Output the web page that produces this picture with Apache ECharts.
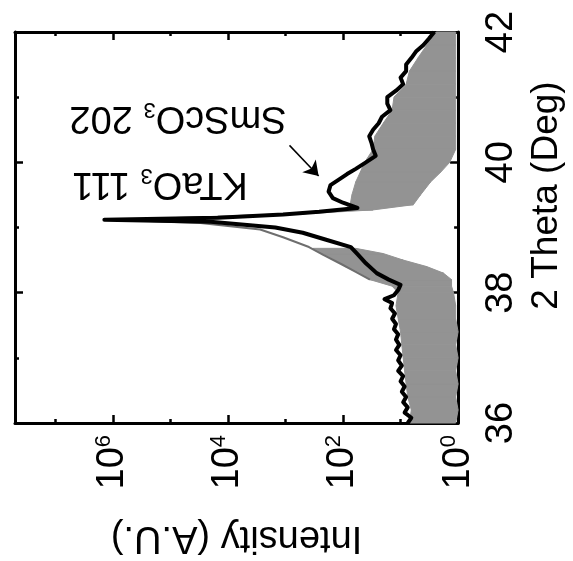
<!DOCTYPE html>
<html>
<head>
<meta charset="utf-8">
<script src="https://cdn.jsdelivr.net/npm/echarts@6/dist/echarts.min.js"></script>
<style>
  html, body { margin: 0; padding: 0; background: #fff; }
  #grafica { width: 573px; height: 561px; }
</style>
</head>
<body>
<div id="grafica"></div>
<script>
// traza negra (pelicula)
const filmTheta = [
  36.0, 36.08, 36.16, 36.24, 36.32, 36.4, 36.48, 36.56, 36.64, 36.72, 36.8,
  36.88, 36.96, 37.04, 37.12, 37.2, 37.28, 37.36, 37.44, 37.52, 37.6, 37.68,
  37.76, 37.84, 37.9, 37.96, 38.04, 38.12, 38.2, 38.3, 38.45, 38.59, 38.7,
  38.82, 38.92, 39.0, 39.09, 39.12, 39.15, 39.2, 39.24, 39.3, 39.38, 39.45,
  39.55, 39.65, 39.73, 39.82, 39.9, 40.0, 40.1, 40.2, 40.3, 40.4, 40.5, 40.6,
  40.7, 40.8, 40.9, 41.0, 41.1, 41.2, 41.3, 41.4, 41.5, 41.6, 41.7, 41.8,
  41.9, 42.0,
];
const filmCounts = [
  7.5, 6.5, 8.5, 7.5, 9, 8, 9.5, 8.5, 10, 9, 11,
  9.5, 11, 10, 12, 10.5, 12, 11, 13, 12, 14, 12.5,
  15, 14, 19, 13, 11, 10, 16, 26, 40, 56, 73,
  210, 500, 1500, 20000, 1400000, 15000, 1100, 260, 56, 100, 150,
  178, 165, 120, 85, 60, 40, 27, 30, 32, 35, 30, 24,
  21, 15, 17, 17, 12, 9, 10, 8, 8, 6.5, 5.4, 4,
  3.2, 2.6,
];

// flanco de la traza gris
const flankTheta = [38.2, 38.32, 38.44, 38.58, 38.7, 38.85, 38.97, 39.07, 39.12, 39.16, 39.21, 39.27];
const flankCounts = [34, 60, 108, 220, 390, 1100, 2750, 30000, 900000, 20000, 600, 90];

// ruido gris (banda minimo / maximo)
const lowBandTheta = [36.0, 36.2, 36.4, 36.6, 36.8, 37.0, 37.2, 37.4, 37.6, 37.8, 38.0, 38.1, 38.2, 38.3, 38.4, 38.5, 38.6, 38.68];
const lowBandMin = [1.1, 1.0, 1.1, 1.0, 1.1, 1.0, 1.1, 1.0, 1.1, 1.1, 1.2, 1.3, 1.3, 1.8, 3.5, 9, 20, 60];
const lowBandMax = [7, 6.5, 7.5, 8, 8.5, 9, 9.5, 10, 11, 12, 11, 14, 34, 50, 90, 140, 230, 330];

const highBandTheta = [39.22, 39.27, 39.35, 39.5, 39.7, 39.85, 40.0, 40.2, 40.4, 40.6, 40.8, 41.0, 41.2, 41.4, 41.6, 41.8, 42.0];
const highBandMin = [300, 30, 6, 4.5, 3, 2, 1.4, 1.1, 1.1, 1.1, 1.1, 1.1, 1.1, 1.1, 1.1, 1.1, 1.1];
const highBandMax = [700, 100, 75, 70, 60, 50, 42, 30, 28, 20, 14, 13, 8, 7, 5, 3.5, 2.4];

// flecha SmScO3
const arrowFrom = [850, 40.26];
const arrowTo = [265, 39.79];

const thetaMin = 36;
const thetaMax = 42;
const intensityMin = 1;
const intensityMax = 5e7;

const FONT = "Liberation Sans";

const renderBand = (params, api) => {
  const i = params.dataIndexInside;
  if (i >= params.dataInsideLength - 1) return null;
  const a = api.coord([api.value(0, i), api.value(1, i)]);
  const b = api.coord([api.value(2, i), api.value(1, i)]);
  const c = api.coord([api.value(2, i + 1), api.value(1, i + 1)]);
  const d = api.coord([api.value(0, i + 1), api.value(1, i + 1)]);
  return {
    type: "polygon",
    shape: { points: [a, b, c, d] },
    style: { fill: "#939393", stroke: "#939393", lineWidth: 1 },
  };
};

const expLabel = (v) => {
  const e = Math.round(Math.log10(v));
  if (Math.abs(Math.log10(v) - e) > 0.01 || e % 2 !== 0) return "";
  return "10{sup|" + e + "}";
};

const logAxis = (pos, withLabels) => ({
  type: "log",
  logBase: 10,
  position: pos,
  min: intensityMin,
  max: intensityMax,
  inverse: true,
  axisLine: { show: true, onZero: false, lineStyle: { color: "#000", width: 3 } },
  axisTick: { show: true, inside: true, length: 4, lineStyle: { color: "#000", width: 2.5 } },
  splitLine: { show: false },
  axisLabel: withLabels
    ? {
        show: true,
        rotate: 90,
        margin: 12,
        color: "#000",
        fontFamily: FONT,
        fontSize: 38,
        lineHeight: 40,
        showMaxLabel: false,
        formatter: expLabel,
        rich: { sup: { fontSize: 22, verticalAlign: "top", fontFamily: FONT, color: "#000" } },
      }
    : { show: false },
  name: withLabels ? "Intensity (A.U.)" : "",
  nameLocation: "middle",
  nameRotate: 180,
  nameGap: 95,
  nameTextStyle: { fontFamily: FONT, fontSize: 38, color: "#000" },
});

// ticks largos en decadas pares
const decadeAxis = (pos) => ({
  type: "value",
  position: pos,
  min: 0,
  max: Math.log10(intensityMax),
  interval: 2,
  inverse: true,
  axisLine: { show: false, onZero: false },
  axisTick: { show: true, inside: true, length: 8, lineStyle: { color: "#000", width: 2.5 } },
  axisLabel: { show: false },
  splitLine: { show: false },
});

const thetaAxis = (pos, withLabels) => ({
  type: "value",
  position: pos,
  min: thetaMin,
  max: thetaMax,
  interval: 2,
  axisLine: { show: true, onZero: false, lineStyle: { color: "#000", width: 3 } },
  axisTick: { show: true, inside: true, length: 8, lineStyle: { color: "#000", width: 2.5 } },
  minorTick: { show: true, splitNumber: 2, length: 4, lineStyle: { color: "#000", width: 2.5 } },
  splitLine: { show: false },
  minorSplitLine: { show: false },
  axisLabel: withLabels
    ? { show: true, rotate: 90, margin: 24, color: "#000", fontFamily: FONT, fontSize: 38 }
    : { show: false },
  name: withLabels ? "2 Theta (Deg)" : "",
  nameLocation: "middle",
  nameRotate: 90,
  nameGap: 60,
  nameTextStyle: { fontFamily: FONT, fontSize: 37, color: "#000", padding: [0, 0, 0, 64] },
});

const option = {
  animation: false,
  backgroundColor: "#fff",
  grid: { left: 15, right: 103, top: 32, bottom: 133, containLabel: false },
  xAxis: [logAxis("bottom", true), logAxis("top", false), decadeAxis("bottom"), decadeAxis("top")],
  yAxis: [thetaAxis("right", true), thetaAxis("left", false)],
  graphic: [
    {
      type: "text",
      x: 160,
      y: 183,
      rotation: Math.PI,
      style: {
        text: "KTaO{s|3} 111",
        font: "38px " + FONT,
        fill: "#000",
        align: "center",
        verticalAlign: "middle",
        rich: { s: { fontSize: 22, fontFamily: FONT, verticalAlign: "bottom" } },
      },
    },
    {
      type: "text",
      x: 178,
      y: 117,
      rotation: Math.PI,
      style: {
        text: "SmScO{s|3} 202",
        font: "38px " + FONT,
        fill: "#000",
        align: "center",
        verticalAlign: "middle",
        rich: { s: { fontSize: 22, fontFamily: FONT, verticalAlign: "bottom" } },
      },
    },
  ],
  series: [
    {
      type: "custom",
      name: "ruido bajo",
      xAxisIndex: 0,
      yAxisIndex: 0,
      z: 1,
      renderItem: renderBand,
      encode: { x: 0, y: 1 },
      data: lowBandTheta.map((t, i) => [lowBandMin[i], t, lowBandMax[i]]),
    },
    {
      type: "custom",
      name: "ruido alto",
      xAxisIndex: 0,
      yAxisIndex: 0,
      z: 1,
      renderItem: renderBand,
      encode: { x: 0, y: 1 },
      data: highBandTheta.map((t, i) => [highBandMin[i], t, highBandMax[i]]),
    },
    {
      type: "line",
      name: "flanco",
      xAxisIndex: 0,
      yAxisIndex: 0,
      z: 2,
      showSymbol: false,
      lineStyle: { color: "#6e6e6e", width: 2 },
      data: flankTheta.map((t, i) => [flankCounts[i], t]),
    },
    {
      type: "line",
      name: "pelicula",
      xAxisIndex: 0,
      yAxisIndex: 0,
      z: 3,
      showSymbol: false,
      lineStyle: { color: "#000", width: 4, join: "round" },
      data: filmTheta.map((t, i) => [filmCounts[i], t]),
      markLine: {
        silent: true,
        symbol: ["none", "arrow"],
        symbolSize: 14,
        label: { show: false },
        lineStyle: { color: "#000", width: 1.5, type: "solid" },
        data: [[{ coord: arrowFrom }, { coord: arrowTo }]],
      },
    },
  ],
};

const createEcharts = () => {
  const myChart = echarts.init(document.querySelector("#grafica"));
  myChart.setOption(option);
};

window.addEventListener("DOMContentLoaded", () => {
  createEcharts();
});
</script>
</body>
</html>
